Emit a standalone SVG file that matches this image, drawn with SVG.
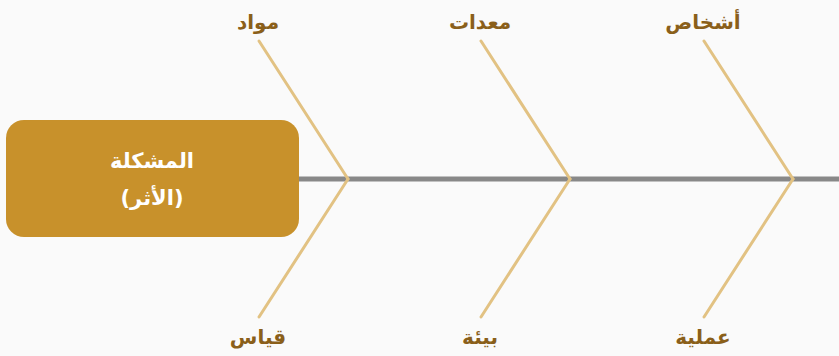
<svg xmlns="http://www.w3.org/2000/svg" width="839" height="356" viewBox="0 0 839 356">
  <style>
    .bone { stroke: #e2c283; stroke-width: 3; fill: none; stroke-linecap: round; }
    .spine { stroke: #888888; stroke-width: 5; fill: none; }
    .cause { font-family: "DejaVu Sans", "Noto Sans", sans-serif; font-size: 20px; font-weight: bold; fill: #8a5f1a; text-anchor: middle; direction: rtl; }
    .head { font-family: "DejaVu Sans", "Noto Sans", sans-serif; font-size: 21px; font-weight: bold; fill: #ffffff; text-anchor: middle; direction: rtl; }
  </style>
  <rect width="839" height="356" fill="#fafafa"/>
  <g id="connectors">
    <line class="spine" x1="299" y1="179" x2="839" y2="179"/>
    <line class="bone" x1="259" y1="41" x2="348" y2="179"/>
    <line class="bone" x1="348" y1="179" x2="259" y2="317"/>
    <line class="bone" x1="481" y1="41" x2="570" y2="179"/>
    <line class="bone" x1="570" y1="179" x2="481" y2="317"/>
    <line class="bone" x1="704" y1="41" x2="793" y2="179"/>
    <line class="bone" x1="793" y1="179" x2="704" y2="317"/>
  </g>
  <g id="problem">
    <rect x="6" y="120" width="293" height="117" rx="18" fill="#c8912b"/>
    <text class="head" x="152" y="168">المشكلة</text>
    <text class="head" x="152" y="205">(الأثر)</text>
  </g>
  <g id="cause-materials"><text class="cause" x="258" y="29">مواد</text></g>
  <g id="cause-equipment"><text class="cause" x="480" y="29">معدات</text></g>
  <g id="cause-people"><text class="cause" x="703" y="29">أشخاص</text></g>
  <g id="cause-measurement"><text class="cause" x="258" y="344">قياس</text></g>
  <g id="cause-environment"><text class="cause" x="480" y="344">بيئة</text></g>
  <g id="cause-process"><text class="cause" x="703" y="344">عملية</text></g>
</svg>
